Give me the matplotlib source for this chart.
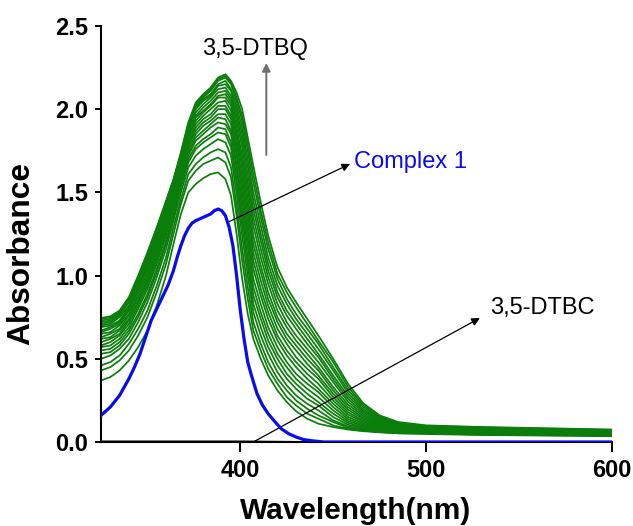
import matplotlib
matplotlib.use("Agg")
import matplotlib.pyplot as plt

plt.rcParams['font.family'] = ['Liberation Sans', 'DejaVu Sans']

# wavelength grid (nm) where the green titration spectra were read
wl = [325, 330, 335, 340, 345, 350, 355, 360, 364, 368, 372, 376, 380, 384, 388, 392,
      395, 398, 401, 404, 407, 411, 415, 420, 425, 430, 436, 442, 450, 458, 466, 475,
      485, 500, 530, 600]

# absorbance of the 21 green spectra at each wavelength (lowest -> highest)
green_cols = [
    [.37, .43, .46, .50, .53, .55, .57, .58, .60, .62, .63, .65, .66, .67, .69, .70, .71, .72, .73, .74, .745],
    [.39, .45, .48, .52, .54, .56, .58, .60, .62, .63, .65, .66, .68, .69, .70, .71, .72, .73, .74, .75, .755],
    [.43, .49, .52, .56, .58, .60, .62, .64, .65, .67, .68, .70, .71, .72, .73, .75, .76, .77, .78, .78, .79],
    [.49, .55, .59, .62, .65, .67, .69, .71, .73, .74, .76, .77, .79, .80, .81, .82, .84, .84, .86, .86, .87],
    [.57, .64, .68, .72, .75, .77, .80, .82, .84, .85, .87, .89, .91, .92, .93, .95, .96, .97, .99, .99, 1.00],
    [.67, .75, .79, .84, .87, .89, .92, .94, .96, .98, 1.00, 1.02, 1.04, 1.05, 1.07, 1.08, 1.10, 1.11, 1.12, 1.13, 1.14],
    [.82, .90, .94, .99, 1.02, 1.04, 1.07, 1.09, 1.11, 1.13, 1.15, 1.17, 1.19, 1.20, 1.22, 1.23, 1.25, 1.26, 1.27, 1.28, 1.29],
    [1.00, 1.07, 1.11, 1.16, 1.19, 1.21, 1.24, 1.26, 1.28, 1.30, 1.32, 1.33, 1.35, 1.36, 1.38, 1.39, 1.41, 1.42, 1.43, 1.44, 1.45],
    [1.19, 1.25, 1.29, 1.33, 1.35, 1.37, 1.40, 1.41, 1.43, 1.45, 1.46, 1.48, 1.49, 1.51, 1.52, 1.53, 1.55, 1.55, 1.57, 1.57, 1.58],
    [1.37, 1.43, 1.46, 1.50, 1.53, 1.54, 1.57, 1.58, 1.60, 1.61, 1.63, 1.64, 1.66, 1.67, 1.68, 1.69, 1.71, 1.71, 1.73, 1.73, 1.74],
    [1.50, 1.57, 1.61, 1.65, 1.68, 1.70, 1.72, 1.74, 1.76, 1.78, 1.79, 1.81, 1.83, 1.84, 1.85, 1.87, 1.88, 1.89, 1.91, 1.91, 1.92],
    [1.55, 1.63, 1.67, 1.72, 1.76, 1.78, 1.81, 1.83, 1.85, 1.87, 1.89, 1.91, 1.93, 1.95, 1.96, 1.98, 2.00, 2.01, 2.02, 2.03, 2.04],
    [1.585, 1.67, 1.71, 1.76, 1.80, 1.82, 1.85, 1.87, 1.90, 1.92, 1.94, 1.96, 1.98, 1.99, 2.01, 2.03, 2.05, 2.06, 2.07, 2.08, 2.09],
    [1.61, 1.69, 1.74, 1.79, 1.83, 1.85, 1.89, 1.91, 1.93, 1.95, 1.97, 2.00, 2.02, 2.03, 2.05, 2.07, 2.08, 2.09, 2.11, 2.12, 2.13],
    [1.62, 1.71, 1.76, 1.82, 1.86, 1.89, 1.92, 1.95, 1.97, 2.00, 2.02, 2.04, 2.07, 2.08, 2.10, 2.12, 2.14, 2.15, 2.17, 2.18, 2.19],
    [1.58, 1.68, 1.74, 1.80, 1.85, 1.88, 1.91, 1.94, 1.97, 2.00, 2.02, 2.05, 2.07, 2.09, 2.11, 2.13, 2.15, 2.17, 2.19, 2.20, 2.21],
    [1.48, 1.59, 1.65, 1.72, 1.77, 1.80, 1.85, 1.87, 1.91, 1.94, 1.96, 1.99, 2.02, 2.04, 2.06, 2.08, 2.11, 2.12, 2.15, 2.16, 2.17],
    [1.25, 1.36, 1.42, 1.49, 1.55, 1.59, 1.64, 1.67, 1.72, 1.75, 1.79, 1.83, 1.86, 1.89, 1.93, 1.96, 1.99, 2.02, 2.05, 2.07, 2.10],
    [.98, 1.09, 1.16, 1.24, 1.30, 1.35, 1.40, 1.45, 1.50, 1.55, 1.59, 1.64, 1.68, 1.72, 1.77, 1.81, 1.85, 1.89, 1.93, 1.96, 2.00],
    [.77, .86, .93, 1.00, 1.06, 1.11, 1.17, 1.22, 1.27, 1.32, 1.37, 1.42, 1.47, 1.52, 1.56, 1.61, 1.66, 1.70, 1.75, 1.79, 1.83],
    [.62, .67, .72, .78, .83, .88, .93, .98, 1.04, 1.09, 1.14, 1.19, 1.24, 1.30, 1.35, 1.40, 1.45, 1.50, 1.56, 1.61, 1.66],
    [.50, .55, .59, .64, .69, .74, .78, .83, .88, .92, .97, 1.02, 1.06, 1.11, 1.16, 1.21, 1.25, 1.30, 1.35, 1.39, 1.44],
    [.40, .44, .48, .53, .57, .61, .65, .69, .74, .78, .82, .86, .90, .95, .99, 1.03, 1.07, 1.11, 1.16, 1.20, 1.24],
    [.31, .35, .38, .42, .46, .50, .53, .57, .61, .64, .68, .72, .75, .79, .83, .87, .90, .94, .98, 1.01, 1.05],
    [.24, .27, .31, .34, .38, .41, .45, .48, .52, .55, .59, .62, .65, .69, .72, .76, .79, .83, .86, .90, .93],
    [.185, .22, .25, .28, .32, .35, .38, .41, .45, .48, .51, .55, .58, .61, .64, .68, .71, .74, .77, .81, .84],
    [.14, .17, .20, .23, .26, .29, .32, .35, .38, .41, .44, .47, .50, .53, .56, .59, .62, .65, .68, .71, .74],
    [.11, .14, .16, .19, .22, .24, .27, .30, .32, .35, .38, .40, .43, .45, .48, .51, .53, .56, .59, .61, .64],
    [.09, .10, .12, .13, .15, .17, .19, .21, .23, .25, .27, .29, .31, .33, .36, .38, .40, .43, .45, .48, .50],
    [.075, .079, .086, .094, .104, .115, .126, .138, .151, .165, .179, .194, .209, .225, .242, .259, .276, .294, .312, .331, .35],
    [.065, .068, .072, .077, .083, .090, .097, .104, .112, .121, .129, .139, .148, .158, .168, .179, .189, .200, .212, .223, .235],
    [.058, .060, .062, .065, .069, .073, .077, .082, .086, .091, .097, .102, .108, .114, .120, .126, .133, .139, .146, .153, .16],
    [.052, .053, .055, .057, .059, .062, .065, .068, .071, .074, .078, .081, .085, .089, .093, .097, .102, .106, .111, .115, .12],
    [.048, .051, .053, .056, .058, .061, .064, .066, .069, .071, .074, .077, .079, .082, .084, .087, .090, .092, .095, .097, .10],
    [.042, .044, .047, .049, .052, .054, .056, .059, .061, .064, .066, .068, .071, .073, .076, .078, .080, .083, .085, .088, .09],
    [.035, .037, .039, .041, .043, .045, .047, .049, .051, .053, .055, .057, .059, .061, .063, .065, .067, .069, .071, .073, .075],
]

# complex 1 (blue)
cx_wl = [325, 330, 335, 340, 343, 346, 349, 352, 355, 358, 361, 364, 366, 368, 370, 372,
         374, 376, 378, 381, 384, 386, 388, 390, 392, 394, 396, 398, 400, 402, 404, 406,
         409, 412, 415, 418, 422, 426, 430, 434, 438, 445, 600]
cx_abs = [0.16, 0.21, 0.28, 0.38, 0.45, 0.53, 0.63, 0.73, 0.80, 0.87, 0.94, 1.03, 1.11, 1.18, 1.24, 1.285,
          1.315, 1.33, 1.34, 1.355, 1.37, 1.39, 1.40, 1.39, 1.36, 1.29, 1.18, 1.00, 0.79, 0.62, 0.48, 0.40,
          0.29, 0.22, 0.17, 0.13, 0.08, 0.05, 0.03, 0.015, 0.008, 0.0, 0.0]

# 3,5-DTBC (black, ~zero absorbance)
dtbc_wl = [325, 400, 440, 600]
dtbc_abs = [0.004, 0.004, 0.0, 0.0]

green = list(zip(*green_cols))

fig = plt.figure(figsize=(6.33, 5.26), dpi=100)
ax = fig.add_axes([0.1596, 0.1597, 0.8068, 0.7909])

for spec in green:
    ax.plot(wl, spec, color='#0a7d0a', lw=1.25)
ax.plot(dtbc_wl, dtbc_abs, color='black', lw=1.2)
ax.plot(cx_wl, cx_abs, color='#0a0af0', lw=2.3, zorder=5)

ax.set_xlim(325, 600)
ax.set_ylim(0, 2.5)
ax.set_xticks([400, 500, 600])
ax.set_yticks([0.0, 0.5, 1.0, 1.5, 2.0, 2.5])
ax.set_yticklabels(['0.0', '0.5', '1.0', '1.5', '2.0', '2.5'])
for s in ['top', 'right']:
    ax.spines[s].set_visible(False)
for s in ['left', 'bottom']:
    ax.spines[s].set_linewidth(1.5)
ax.tick_params(axis='x', direction='out', length=7, width=1.4, pad=5, labelsize=17)
ax.tick_params(axis='y', direction='out', length=4.3, width=1.4, pad=5, labelsize=17)
for lab in ax.get_xticklabels() + ax.get_yticklabels():
    lab.set_fontweight('bold')

ax.set_xlabel('Wavelength(nm)', fontsize=21.5, fontweight='bold')
ax.set_ylabel('Absorbance', fontsize=22.8, fontweight='bold')
ax.xaxis.set_label_coords(0.499, -0.132)
ax.yaxis.set_label_coords(-0.127, 0.454)

# annotations
ax.annotate('', xy=(414, 2.278), xytext=(414, 1.725),
            arrowprops=dict(arrowstyle='-|>', color='#707070', lw=1.4, mutation_scale=12,
                            shrinkA=0, shrinkB=0))
ax.text(408, 2.36, '3,5-DTBQ', fontsize=17, ha='center', va='center')

ax.annotate('', xy=(459.1, 1.671), xytext=(393.5, 1.322),
            arrowprops=dict(arrowstyle='-|>', color='black', lw=0.9, mutation_scale=12,
                            shrinkA=0, shrinkB=0))
ax.text(461.3, 1.683, 'Complex 1', fontsize=17, color='#0a0af0', ha='left', va='center')

ax.annotate('', xy=(529, 0.745), xytext=(407, 0.0),
            arrowprops=dict(arrowstyle='-|>', color='black', lw=0.9, mutation_scale=12,
                            shrinkA=0, shrinkB=0), annotation_clip=False)
ax.text(534.4, 0.805, '3,5-DTBC', fontsize=17, ha='left', va='center')

fig.savefig('out.png', dpi=100)
